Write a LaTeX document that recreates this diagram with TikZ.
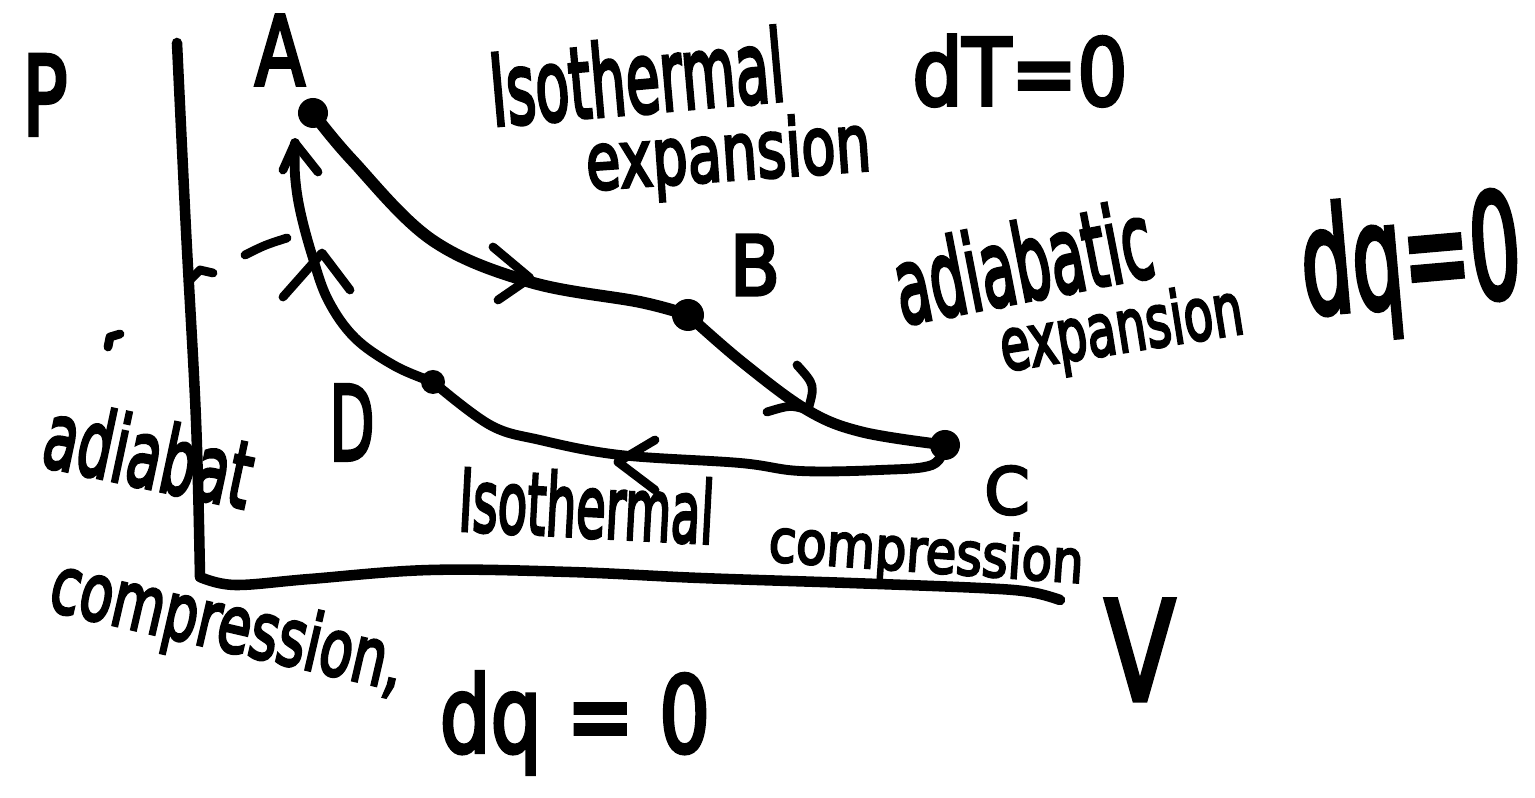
\documentclass[tikz,border=0pt]{standalone}
\usepackage{fontspec}
\setmainfont{DejaVu Sans}
\newfontfamily\hwfont{DejaVu Sans}[FakeBold=4]
\usepackage{graphicx}
\newcommand{\hwtext}[3]{\resizebox{#1cm}{#2cm}{\hwfont #3}}
\tikzset{
  lbl/.style={inner sep=0pt, anchor=base},
  dot/.style={circle, fill=black, inner sep=0pt, minimum size=0.3cm},
  curve/.style={line width=2.8pt, line cap=round, line join=round},
  axisline/.style={line width=3pt, line cap=round, line join=round},
  chev/.style={line width=2.5pt, line cap=round, line join=round},
}
\begin{document}
\begin{tikzpicture}[x=0.01cm,y=-0.01cm]
\useasboundingbox (0,0) rectangle (1535,798);
\fill[white] (0,0) rectangle (1535,798);

% axes
\coordinate (Ptop) at (177,43);
\coordinate (O) at (200,577);
\coordinate (Vend) at (1060,600);
\draw[axisline] plot[smooth, tension=0.6] coordinates {(Ptop) (186,230) (196,420) (O)};
\draw[axisline] plot[smooth, tension=0.6] coordinates {(O) (235,585) (310,579) (430,570) (570,572) (700,578) (850,583) (980,588) (1030,592) (Vend)};

% state points
\node[dot] (A) at (313,113) {};
\node[dot, minimum size=0.32cm] (B) at (688,315) {};
\node[dot] (C) at (945,445) {};
\node[dot, minimum size=0.24cm] (D) at (433,382) {};
\coordinate (Atip) at (295,143);

% cycle curves
\draw[curve, line width=3.4pt] plot[smooth, tension=0.6] coordinates {(A.center) (352,160) (432,240) (530,282) (640,302) (B.center)};
\draw[curve, line width=3.1pt] plot[smooth, tension=0.6] coordinates {(B.center) (742,362) (807,410) (862,432) (C.center)};
\draw[curve] plot[smooth, tension=0.6] coordinates {(C.center) (932,465) (880,470) (800,471) (740,463) (620,455) (540,440) (490,425) (D.center)};
\draw[curve] plot[smooth, tension=0.6] coordinates {(D.center) (395,366) (355,338) (328,300) (312,255) (300,210) (295,175) (Atip)};

% direction marks
\draw[chev] (493,247) -- (530,278) -- (498,300);
\draw[chev] (797,365) .. controls (815,385) .. (808,410) .. controls (790,405) .. (767,412);
\draw[chev] (655,440) -- (618,462) -- (655,490);
\draw[chev] (283,170) -- (Atip) -- (318,172);
\draw[chev] (283,297) -- (322,253) -- (350,290);
\draw[chev] (245,255) .. controls (265,245) .. (287,238);
\draw[chev] (188,282) -- (200,270) -- (213,273);
\draw[chev] (108,347) -- (110,337) -- (120,334);

% labels
\node[lbl] (lP) at (45,135) {\hwtext{0.45}{0.8}{P}};
\node[lbl] (lA) at (280,85) {\hwtext{0.5}{0.7}{A}};
\node[lbl] (lB) at (755,295) {\hwtext{0.5}{0.6}{B}};
\node[lbl] (lC) at (1007,514) {\hwtext{0.45}{0.48}{C}};
\node[lbl] (lD) at (352,460) {\hwtext{0.45}{0.75}{D}};
\node[lbl] (lV) at (1140,700) {\hwtext{0.7}{1.0}{V}};

\node[lbl, rotate=5] (t1) at (640,113) {\hwtext{2.95}{0.75}{Isothermal}};
\node[lbl, rotate=4] (t2) at (730,180) {\hwtext{2.85}{0.6}{expansion}};
\node[lbl] (t3) at (1020,105) {\hwtext{2.15}{0.7}{dT=0}};
\node[lbl, rotate=11] (t4) at (1030,300) {\hwtext{2.6}{0.8}{adiabatic}};
\node[lbl, rotate=9] (t5) at (1125,352) {\hwtext{2.45}{0.55}{expansion}};
\node[lbl, rotate=5] (t6) at (1415,305) {\hwtext{2.2}{1.1}{dq=0}};
\node[lbl, rotate=-12] (t7) at (142,487) {\hwtext{2.1}{0.7}{adiabat}};
\node[lbl, rotate=-3] (t8) at (585,537) {\hwtext{2.55}{0.65}{Isothermal}};
\node[lbl, rotate=-4] (t9) at (925,572) {\hwtext{3.15}{0.45}{compression}};
\node[lbl, rotate=-13] (t10) at (222,650) {\hwtext{3.6}{0.6}{compression,}};
\node[lbl] (t11) at (575,752) {\hwtext{2.7}{0.8}{dq = 0}};
\end{tikzpicture}
\end{document}
